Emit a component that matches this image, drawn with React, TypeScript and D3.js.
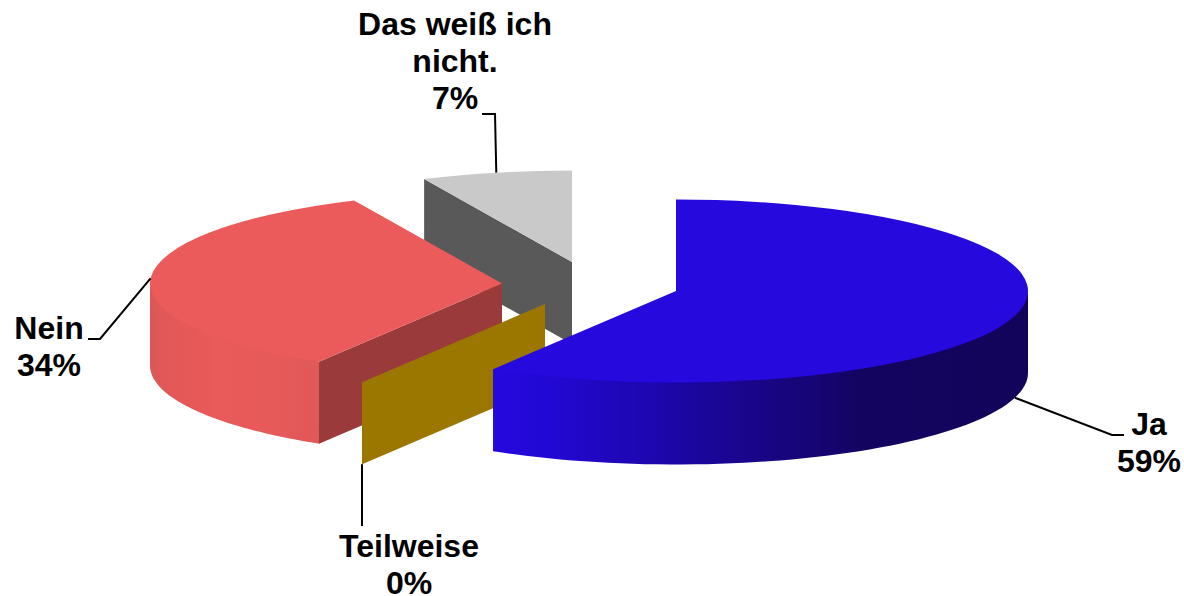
import * as d3 from 'd3'

// chart values, clockwise from 12 o'clock (the labels show them rounded)
const categories = ['Ja', 'Teilweise', 'Nein', 'Das weiß ich nicht.']
const percents = [58.7, 0, 34.4, 6.9]

// slice styles, same order as categories
const topColors = ['#2609DD', '#9B7700', '#EB5B5B', '#C9C9C9']
const wallColors = ['#1B069A', '#9B7700', '#9A3A3A', '#595959']

// how far each slice was pulled out of the pie (its apex on the page)
const apexX = [676, 545, 502, 572]
const apexY = [291, 304, 283.5, 262]

// wrapped label text and where it sits
const labelLines = [['Ja'], ['Teilweise'], ['Nein'], ['Das weiß ich', 'nicht.']]
const labelX = [1149, 409, 49, 455]
const labelY = [435, 557, 339, 35]

// leader line: after leaving the rim it runs through these two points
const elbowX = [1112, 362, 100, 495]
const elbowY = [435, 526, 339, 114]
const leaderEndX = [1124, 362, 88, 482]
const leaderEndY = [435, 526, 339, 114]
const anchorOnBottom = [true, true, false, false]

const W = 1184
const H = 596
const rx = 352
const ry = 91.5
const depth = 82
const lineH = 37

const pie = d3.pie<number>().sort(null).value((d) => d)
const slices = pie(percents)

const xScale = d3.scaleLinear().domain([-1, 1]).range([-rx, rx])
const yScale = d3.scaleLinear().domain([-1, 1]).range([-ry, ry])

const arcTop = d3.arc<any>().innerRadius(0).outerRadius(rx)
const polyLine = d3.line()

// point on the rim for a pie angle (0 = up, clockwise)
function rim(i: number, angle: number, drop = 0): [number, number] {
  return [apexX[i] + xScale(Math.sin(angle)), apexY[i] + yScale(-Math.cos(angle)) + drop]
}

// outer side of a slice, only the front half of the ellipse shows
function sidePath(i: number) {
  const a0 = Math.max(slices[i].startAngle, Math.PI / 2)
  const a1 = Math.min(slices[i].endAngle, (Math.PI * 3) / 2)
  if (a1 <= a0) return null
  const angles = d3.range(0, 61).map((k) => a0 + ((a1 - a0) * k) / 60)
  // upper edge tucked under the top face so no seam shows
  const upper = angles.map((a, k) => rim(i, a, k === 0 || k === 60 ? 0 : -3))
  const lower = angles.slice().reverse().map((a) => rim(i, a, depth))
  return polyLine([...upper, ...lower]) + 'Z'
}

// cut face running from the apex to the rim at the slice's start angle
function wallPath(i: number) {
  const a = slices[i].startAngle
  const p = rim(i, a)
  const pts: [number, number][] = [
    [apexX[i], apexY[i]],
    p,
    [p[0], p[1] + depth],
    [apexX[i], apexY[i] + depth],
  ]
  return polyLine(pts) + 'Z'
}

function leaderPath(i: number) {
  const mid = (slices[i].startAngle + slices[i].endAngle) / 2
  const pts: [number, number][] = [
    rim(i, mid, anchorOnBottom[i] ? depth : 0),
    [elbowX[i], elbowY[i]],
    [leaderEndX[i], leaderEndY[i]],
  ]
  return polyLine(pts)
}

// back to front
const drawOrder = [3, 2, 1, 0]

export default function App() {
  return (
    <svg
      width={W}
      height={H}
      style={{ position: 'absolute', left: 0, top: 0, display: 'block', background: '#fff' }}
    >
      <defs>
        <linearGradient id="side0" x1="0" x2="1" y1="0" y2="0">
          <stop offset="0" stopColor="#2509DE" />
          <stop offset="0.1" stopColor="#2208D4" />
          <stop offset="0.4" stopColor="#1B069A" />
          <stop offset="0.7" stopColor="#130460" />
          <stop offset="1" stopColor="#12045A" />
        </linearGradient>
        <linearGradient id="side2" x1="0" x2="1" y1="0" y2="0">
          <stop offset="0" stopColor="#DC5757" />
          <stop offset="0.12" stopColor="#E35858" />
          <stop offset="0.4" stopColor="#E95A5A" />
          <stop offset="0.7" stopColor="#E75A5A" />
          <stop offset="1" stopColor="#E05858" />
        </linearGradient>
      </defs>

      {drawOrder.map((i) => {
        const side = sidePath(i)
        return (
          <g key={categories[i]}>
            <path d={wallPath(i)} fill={wallColors[i]} />
            {side && <path d={side} fill={`url(#side${i})`} />}
            {percents[i] > 0 && (
              <path
                d={arcTop(slices[i]) as string}
                transform={`translate(${apexX[i]},${apexY[i]}) scale(1,${ry / rx})`}
                fill={topColors[i]}
              />
            )}
          </g>
        )
      })}

      {categories.map((c, i) => (
        <path key={c} d={leaderPath(i) as string} fill="none" stroke="#000" strokeWidth={2} />
      ))}

      {categories.map((c, i) => {
        const lines = [...labelLines[i], Math.round(percents[i]) + '%']
        return (
          <text
            key={c}
            fontFamily="'Liberation Sans', Arial, sans-serif"
            fontWeight="bold"
            fontSize={32}
            textAnchor="middle"
            fill="#000"
          >
            {lines.map((l, k) => (
              <tspan key={k} x={labelX[i]} y={labelY[i] + k * lineH}>
                {l}
              </tspan>
            ))}
          </text>
        )
      })}
    </svg>
  )
}
